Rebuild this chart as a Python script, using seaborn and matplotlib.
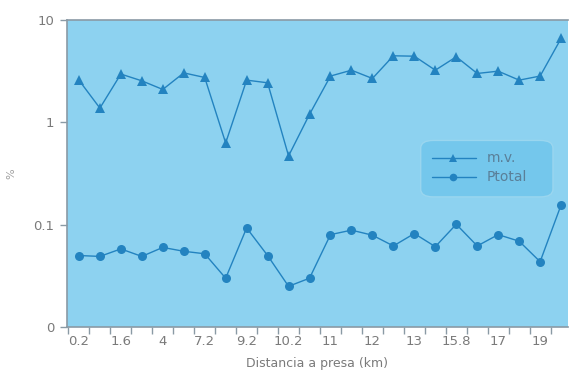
import matplotlib
matplotlib.use("Agg")
import matplotlib.pyplot as plt
import seaborn as sns
import numpy as np
import pandas as pd
from matplotlib.patches import FancyBboxPatch

dist_labels = ["0.2", "", "1.6", "", "4", "", "7.2", "", "9.2", "", "10.2", "",
               "11", "", "12", "", "13", "", "15.8", "", "17", "", "19", ""]
mv = [2.59, 1.38, 2.97, 2.55, 2.10, 3.05, 2.75, 0.63, 2.59, 2.44, 0.47, 1.20,
      2.84, 3.24, 2.69, 4.48, 4.44, 3.24, 4.38, 3.01, 3.17, 2.59, 2.84, 6.62]
ptotal = [0.050, 0.049, 0.058, 0.049, 0.060, 0.055, 0.052, 0.030, 0.093, 0.050,
          0.025, 0.030, 0.080, 0.0885, 0.079, 0.062, 0.082, 0.061, 0.101, 0.062,
          0.080, 0.069, 0.0435, 0.156]
yticks = [0.01, 0.1, 1, 10]
ytick_labels = ["0", "0.1", "1", "10"]

sns.set_style("ticks")
plt.rcParams['font.family'] = ['DejaVu Sans']

idx = np.arange(len(mv))
df = pd.DataFrame({"pos": np.concatenate([idx, idx]),
                   "val": mv + ptotal,
                   "serie": ["m.v."] * len(mv) + ["Ptotal"] * len(ptotal)})

fig = plt.figure(figsize=(5.70, 3.87), dpi=100)
ax = fig.add_axes([0.1175, 0.155, 0.879, 0.793])
bg = "#8dd2f0"
ax.set_facecolor(bg)
line_c = "#2383c0"
sns.lineplot(data=df, x="pos", y="val", hue="serie", style="serie",
             markers={"m.v.": "^", "Ptotal": "o"}, dashes=False,
             palette={"m.v.": line_c, "Ptotal": line_c},
             markersize=6.5, linewidth=1.0, markeredgewidth=0, ax=ax, legend=False)
ax.set_yscale("log")
ax.set_ylim(0.01, 10)
ax.set_xlim(-0.57, 23.33)
ax.set_yticks(yticks)
ax.set_yticklabels(ytick_labels)
ax.yaxis.set_minor_locator(matplotlib.ticker.NullLocator())
ax.set_xticks(idx)
ax.set_xticklabels(dist_labels)
ax.set_xticks(np.arange(len(mv)) - 0.5, minor=True)
ax.tick_params(axis="x", which="major", length=0, pad=6, labelsize=9.5, labelcolor="#7a7a7a")
ax.tick_params(axis="x", which="minor", length=5, width=1, color="#8a9aa5")
ax.tick_params(axis="y", length=5, width=1, color="#8a9aa5", labelsize=9.5, labelcolor="#7a7a7a", pad=4)
ax.spines["right"].set_visible(False)
for s in ["left", "bottom", "top"]:
    ax.spines[s].set_color("#8a9aa5")
    ax.spines[s].set_linewidth(1.2)
ax.set_xlabel("Distancia a presa (km)", fontsize=9, color="#7a7a7a", labelpad=6)
ax.set_ylabel("%", fontsize=8, color="#a0a0a0", labelpad=12)

# legend
box = FancyBboxPatch((0.712, 0.430), 0.252, 0.172, boxstyle="round,pad=0.006,rounding_size=0.025",
                     transform=ax.transAxes, facecolor="#74c7ec", edgecolor="#9ad6ef", lw=1, zorder=5)
ax.add_patch(box)
for i, (lab, mk) in enumerate([("m.v.", "^"), ("Ptotal", "o")]):
    yy = 0.552 - i * 0.063
    ax.plot([0.729, 0.816], [yy, yy], color=line_c, lw=1, transform=ax.transAxes, zorder=6)
    ax.plot([0.770], [yy], marker=mk, color=line_c, ms=5.5, mew=0, transform=ax.transAxes, zorder=6)
    ax.text(0.838, yy, lab, transform=ax.transAxes, va="center", ha="left",
            fontsize=10, color="#5a7f98", zorder=6)

fig.savefig("out.png", dpi=100, facecolor="white")
